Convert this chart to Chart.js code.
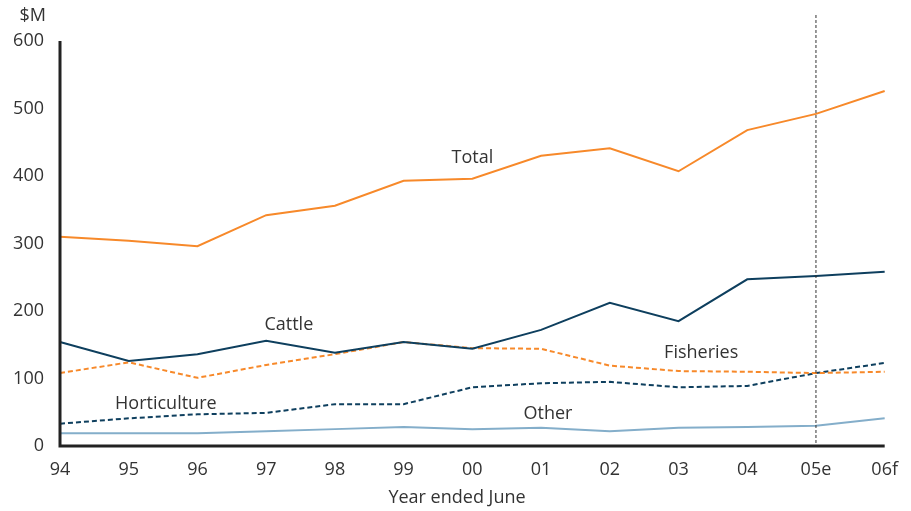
<!DOCTYPE html>
<html lang="en">
<head>
<meta charset="UTF-8">
<title>$M by year ended June</title>
<script src="https://cdn.jsdelivr.net/npm/chart.js"></script>
<style>
  html, body { margin: 0; padding: 0; background: #fff; }
  #wrap { width: 911px; height: 511px; }
</style>
</head>
<body>
<div id="wrap"><canvas id="grafico" width="911" height="511"></canvas></div>
<script>
const anos = ['94', '95', '96', '97', '98', '99', '00', '01', '02', '03', '04', '05e', '06f'];
const total = [310, 304, 296, 342, 356, 393, 396, 430, 441, 407, 468, 492, 526];
const cattle = [154, 126, 136, 156, 138, 154, 144, 172, 212, 185, 247, 252, 258];
const fisheries = [108, 124, 101, 120, 136, 154, 145, 144, 119, 111, 110, 108, 110];
const horticulture = [33, 41, 47, 49, 62, 62, 87, 93, 95, 87, 89, 108, 123];
const other = [19, 19, 19, 22, 25, 28, 25, 27, 22, 27, 28, 30, 41];

// rotulos dentro do grafico: [texto, indice x, valor y]
const rotulos = [
  ['Total', 6, 427],
  ['Cattle', 3.33, 179],
  ['Fisheries', 9.33, 138],
  ['Horticulture', 1.54, 62],
  ['Other', 7.1, 47]
];
const indiceEstimativa = 11;

const laranja = '#f7892a';
const azulEscuro = '#0e3f5e';
const azulClaro = '#84aeca';
const fonte = '"Open Sans", "DejaVu Sans", sans-serif';

const extras = {
  id: 'extras',
  afterDatasetsDraw(chart) {
    const ctx = chart.ctx;
    const x = chart.scales.x, y = chart.scales.y;
    const area = chart.chartArea;

    // linha vertical tracejada (estimativa)
    const xe = x.getPixelForValue(indiceEstimativa);
    ctx.save();
    ctx.strokeStyle = '#333';
    ctx.lineWidth = 1;
    ctx.setLineDash([3, 2]);
    ctx.beginPath();
    ctx.moveTo(xe, 15);
    ctx.lineTo(xe, area.bottom);
    ctx.stroke();
    ctx.restore();

    // eixos
    ctx.save();
    ctx.strokeStyle = '#222';
    ctx.lineWidth = 3;
    ctx.beginPath();
    ctx.moveTo(area.left, area.top);
    ctx.lineTo(area.left, area.bottom);
    ctx.lineTo(area.right, area.bottom);
    ctx.stroke();
    ctx.restore();

    ctx.save();
    ctx.fillStyle = '#333';
    ctx.font = '18px ' + fonte;
    ctx.textAlign = 'center';
    ctx.textBaseline = 'middle';
    rotulos.forEach(r => {
      ctx.fillText(r[0], x.getPixelForValue(r[1]), y.getPixelForValue(r[2]));
    });
    ctx.fillText('Year ended June', 457, 498);
    ctx.textAlign = 'right';
    ctx.fillText('$M', 46, 16);
    ctx.restore();
  }
};

const config = {
  type: 'line',
  data: {
    labels: anos,
    datasets: [
      { label: 'Total', data: total, borderColor: laranja },
      { label: 'Cattle', data: cattle, borderColor: azulEscuro },
      { label: 'Fisheries', data: fisheries, borderColor: laranja, borderDash: [5, 3] },
      { label: 'Horticulture', data: horticulture, borderColor: azulEscuro, borderDash: [5, 3] },
      { label: 'Other', data: other, borderColor: azulClaro }
    ]
  },
  options: {
    responsive: false,
    animation: false,
    layout: { padding: { left: 0, right: 24, top: 41, bottom: 0 } },
    elements: {
      line: { borderWidth: 2, tension: 0, fill: false },
      point: { radius: 0 }
    },
    plugins: {
      legend: { display: false },
      tooltip: { enabled: false }
    },
    scales: {
      x: {
        offset: false,
        grid: { display: false, drawTicks: false },
        border: { display: false },
        ticks: { color: '#333', font: { family: fonte, size: 18 }, padding: 13, maxRotation: 0 },
        afterFit: s => { s.height = 65; }
      },
      y: {
        min: 0,
        max: 600,
        grid: { display: false, drawTicks: false },
        border: { display: false },
        ticks: { stepSize: 100, color: '#333', font: { family: fonte, size: 18 }, padding: 16 },
        afterFit: s => { s.width = 60; }
      }
    }
  },
  plugins: [extras]
};

new Chart(document.getElementById('grafico').getContext('2d'), config);
</script>
</body>
</html>
